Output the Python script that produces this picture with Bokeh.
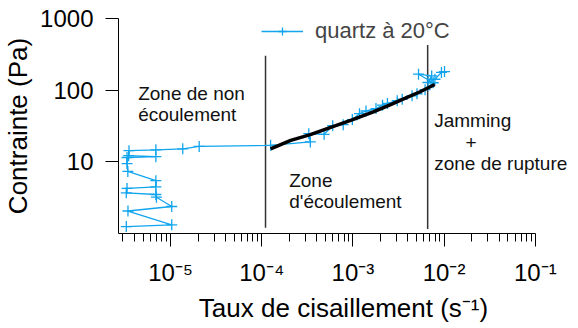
from bokeh.plotting import figure
from bokeh.models import Range1d, FixedTicker, Legend, LegendItem, Label
from bokeh.embed import file_html
from bokeh.resources import INLINE

# measured data: quartz at 20°C (shear rate s^-1, stress Pa)
shear_rate = [3.27e-6, 1.03e-5, 3.41e-6, 1.03e-5, 7.0e-6, 6.9e-6, 3.27e-6, 3.33e-6,
              6.9e-6, 6.9e-6, 3.4e-6, 3.33e-6, 3.33e-6, 6.9e-6, 3.47e-6, 3.5e-6,
              6.9e-6, 1.36e-5, 2.06e-5, 1.25e-4,
              3.41e-4, 3.28e-4, 4.83e-4, 6.0e-4, 7.82e-4, 9.85e-4, 1.18e-3, 1.39e-3,
              1.79e-3, 2.11e-3, 2.39e-3, 3.06e-3, 3.47e-3, 4.45e-3, 5.04e-3, 6.18e-3,
              7.59e-3, 5.24e-3, 7.30e-3, 6.65e-3, 7.93e-3, 9.35e-3, 1.01e-2]
stress = [1.25, 1.32, 2.06, 2.38, 3.21, 3.50, 3.70, 4.26,
          4.47, 5.46, 7.35, 9.46, 11.5, 11.8, 12.2, 14.3,
          14.7, 15.2, 16.4, 17.0,
          18.95, 24.7, 24.2, 31.9, 33.0, 38.9, 47.0, 51.2,
          55.4, 61.8, 65.4, 71.3, 74.7, 83.4, 89.1, 101.7,
          127.0, 167.0, 158.0, 128.0, 142.0, 177.0, 182.0]

# fitted flow curve (black)
fit_rate = [1.25e-4, 2.08e-4, 3.41e-4, 5.6e-4, 9.6e-4, 1.65e-3, 2.59e-3, 3.76e-3, 5.46e-3, 7.9e-3]
fit_stress = [15.2, 19.9, 24.0, 30.1, 38.3, 49.5, 63.0, 77.3, 95.1, 120.0]

# zone boundaries
boundary_x = [1.1e-4, 6.6e-3]
boundary_y0 = [1.2, 1.16]
boundary_y1 = [303.0, 427.0]

x_ticks = [1e-5, 1e-4, 1e-3, 1e-2, 1e-1]
x_tick_labels = ["10⁻⁵", "10⁻⁴", "10⁻³", "10⁻²", "10⁻¹"]
y_ticks = [10, 100, 1000]
y_tick_labels = ["10", "100", "1000"]

FONT = "Liberation Sans"
BLUE = "#12a5ee"
X_START = 10 ** -5.571
X_AXIS_END = 0.1

p = figure(width=568, height=325, x_axis_type="log", y_axis_type="log",
           x_range=Range1d(X_START, 10 ** -0.636), y_range=Range1d(1, 1000),
           output_backend="svg", toolbar_location=None,
           min_border_left=110, min_border_right=0, min_border_top=18, min_border_bottom=80)
p.outline_line_color = None
p.xgrid.visible = False
p.ygrid.visible = False

minor = [m * 10.0 ** e for e in range(-6, -1) for m in range(2, 10) if m * 10.0 ** e > X_START]
p.xaxis.ticker = FixedTicker(ticks=x_ticks, minor_ticks=minor)
p.xaxis.bounds = (X_START, X_AXIS_END)
p.xaxis.major_label_overrides = {t: l for t, l in zip(x_ticks, x_tick_labels)}
p.yaxis.ticker = FixedTicker(ticks=y_ticks, minor_ticks=[])
p.yaxis.major_label_overrides = {t: l for t, l in zip(y_ticks, y_tick_labels)}

for ax in (p.xaxis[0], p.yaxis[0]):
    ax.major_tick_in = 0
    ax.major_tick_out = 13
    ax.minor_tick_in = 0
    ax.axis_line_color = "black"
    ax.major_tick_line_color = "black"
    ax.minor_tick_line_color = "black"
    ax.major_label_text_font = FONT
    ax.major_label_text_font_size = "24px"
    ax.major_label_text_color = "black"
    ax.axis_label_text_font = FONT
    ax.axis_label_text_font_size = "26px"
    ax.axis_label_text_font_style = "normal"
    ax.axis_label_text_color = "black"
p.xaxis.minor_tick_out = 8
p.yaxis.minor_tick_out = 0
p.xaxis.major_label_standoff = 12
p.yaxis.major_label_standoff = 12
p.xaxis.axis_label_standoff = 4
p.yaxis.axis_label_standoff = 4
p.xaxis.axis_label = "Taux de cisaillement (s⁻¹)"
p.yaxis.axis_label = "Contrainte (Pa)"

p.segment(x0=boundary_x, y0=boundary_y0, x1=boundary_x, y1=boundary_y1,
          line_color="#333333", line_width=1.5)

l1 = p.line(shear_rate, stress, line_color=BLUE, line_width=1.3)
s1 = p.scatter(shear_rate, stress, marker="cross", size=11, line_color=BLUE, line_width=1.3)
p.line(fit_rate, fit_stress, line_color="black", line_width=3.5)

legend = Legend(items=[LegendItem(label="quartz à 20°C", renderers=[l1, s1])],
                location=(143, 189), orientation="vertical")
legend.glyph_width = 42
legend.label_standoff = 12
legend.padding = 0
legend.margin = 0
legend.border_line_alpha = 0
legend.background_fill_alpha = 0
legend.label_text_font = FONT
legend.label_text_font_size = "22px"
legend.label_height = 20
legend.glyph_height = 20
p.add_layout(legend, "center")

texts = [("Zone de non", 4.41e-6, 89.0, "left"),
         ("écoulement", 4.41e-6, 45.9, "left"),
         ("Zone", 2.0e-4, 5.46, "left"),
         ("d'écoulement", 2.0e-4, 2.81, "left"),
         ("Jamming", 7.78e-3, 37.7, "left"),
         ("+", 1.97e-2, 18.8, "center"),
         ("zone de rupture", 7.78e-3, 9.46, "left")]
for t, x, y, al in texts:
    p.add_layout(Label(x=x, y=y, text=t, text_font=FONT, text_font_size="19px",
                       text_align=al, text_baseline="alphabetic", text_color="#111111"))

open("out.html", "w").write(file_html(p, INLINE))
